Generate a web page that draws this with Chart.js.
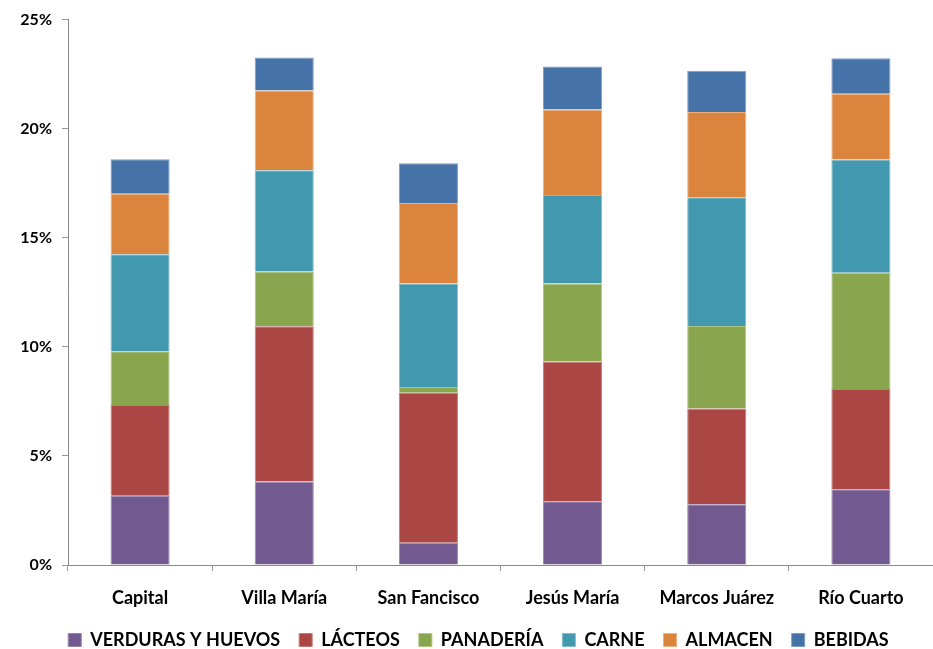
<!DOCTYPE html>
<html>
<head>
<meta charset="utf-8">
<script src="https://cdn.jsdelivr.net/npm/chart.js@4/dist/chart.umd.min.js"></script>
<style>
html,body{margin:0;padding:0;background:#fff;}
#wrap{width:933px;height:649px;position:relative;}
</style>
</head>
<body>
<div id="wrap"><canvas id="c" width="933" height="649"></canvas></div>
<script>
const categories = ["Capital", "Villa María", "San Fancisco", "Jesús María", "Marcos Juárez", "Río Cuarto"];
const verdurasYHuevos = [3.17, 3.83, 1.02, 2.92, 2.78, 3.47];
const lacteos        = [4.16, 7.11, 6.87, 6.41, 4.39, 4.60];
const panaderia      = [2.47, 2.51, 0.27, 3.57, 3.78, 5.33];
const carne          = [4.44, 4.65, 4.74, 4.06, 5.91, 5.19];
const almacen        = [2.78, 3.65, 3.69, 3.92, 3.90, 3.01];
const bebidas        = [1.58, 1.51, 1.82, 1.97, 1.89, 1.63];
const yTicks = [0, 5, 10, 15, 20, 25];

const mk = (label, data, color, border) => ({
  label, data, backgroundColor: color, borderColor: border, borderWidth: 1,
  barPercentage: 0.41, categoryPercentage: 1.0
});

const font = "Lato, 'Open Sans', sans-serif";

const legendShift = {
  id: 'legendShift',
  afterLayout(chart) {
    if (chart.legend) { chart.legend.left += 12; chart.legend.right += 12; }
  }
};

new Chart(document.getElementById('c'), {
  type: 'bar',
  data: {
    labels: categories,
    datasets: [
      mk("VERDURAS Y HUEVOS", verdurasYHuevos, "#725990", "#9a86b2"),
      mk("LÁCTEOS", lacteos, "#AA4643", "#c97a78"),
      mk("PANADERÍA", panaderia, "#89A54E", "#afc584"),
      mk("CARNE", carne, "#4298AF", "#7fbccd"),
      mk("ALMACEN", almacen, "#DB843D", "#eeb07c"),
      mk("BEBIDAS", bebidas, "#4572A7", "#7e9ec6")
    ]
  },
  plugins: [legendShift],
  options: {
    responsive: false,
    animation: false,
    layout: { padding: { left: 0, right: 0, top: 10, bottom: -10 } },
    plugins: {
      legend: {
        position: 'bottom',
        labels: {
          boxWidth: 13, boxHeight: 13, padding: 19, color: '#000',
          font: { family: font, size: 18, weight: 'bold' }
        }
      },
      tooltip: { enabled: false }
    },
    scales: {
      x: {
        stacked: true,
        grid: { display: true, drawOnChartArea: false, offset: true, color: '#999', tickLength: 6 },
        border: { color: '#888', width: 1 },
        ticks: { color: '#000', font: { family: font, size: 18, weight: 'bold' }, padding: 16 },
        afterFit: (s) => { s.height = 47; }
      },
      y: {
        stacked: true,
        min: 0, max: 25,
        afterBuildTicks: (s) => { s.ticks = yTicks.map(v => ({ value: v })); },
        grid: { display: true, drawOnChartArea: false, color: '#999', tickLength: 6 },
        border: { color: '#888', width: 1 },
        ticks: { color: '#000', font: { family: font, size: 16, weight: 'bold' }, padding: 10,
                 callback: (v) => v + '%' },
        afterFit: (s) => { s.width = 68; }
      }
    }
  }
});
</script>
</body>
</html>
